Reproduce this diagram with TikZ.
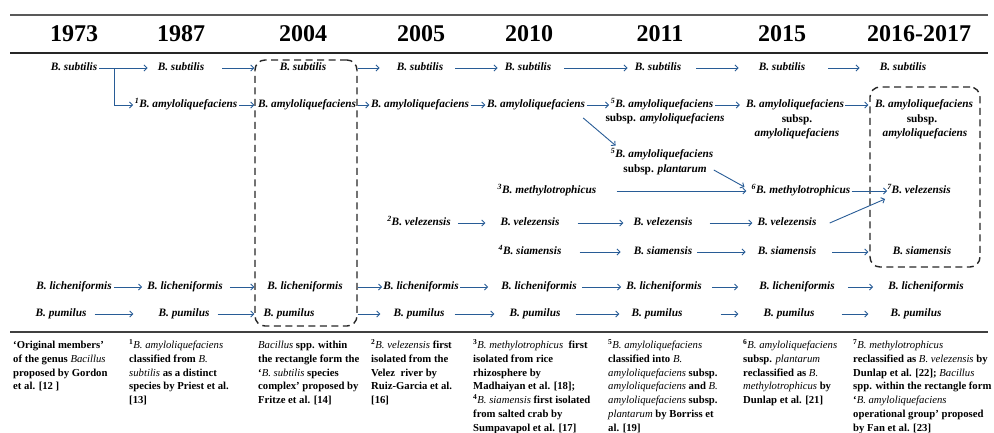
\documentclass[tikz,border=0pt]{standalone}
\usepackage{fontspec}
\setmainfont{Liberation Serif}
\usetikzlibrary{arrows.meta}
\definecolor{arrblue}{RGB}{40,92,150}
\newcommand{\fnbox}[1]{\parbox[t]{160pt}{\raggedright\fontsize{10.7}{13.8}\selectfont\bfseries #1}}
\newcommand{\spi}[1]{{\mdseries\itshape #1}}
\begin{document}
\begin{tikzpicture}[x=1pt,y=-1pt,
  sp/.style={font=\fontsize{11.3}{13}\selectfont\bfseries\itshape, inner sep=0pt, text height=8pt, text depth=2.5pt},
  yr/.style={font=\fontsize{24}{26}\selectfont\bfseries, inner sep=0pt},
  arr/.style={draw=arrblue, line width=0.9pt, -{Straight Barb[length=3pt,width=6pt]}},
  dbox/.style={draw=black!85, line width=1.4pt, dash pattern=on 7pt off 4.5pt, rounded corners=10pt, inner sep=0pt},
  fn/.style={anchor=base west, inner sep=0pt}
]
\useasboundingbox (0,0) rectangle (994,432);
% rules
\draw[line width=1.6pt, black!65] (10,15) -- (988,15);
\draw[line width=1.2pt, black!85] (10,53) -- (988,53);
\draw[line width=1.2pt, black!75] (10,332) -- (988,332);
% years
\node[yr] (y1) at (74,34) {1973};
\node[yr] (y2) at (181,34) {1987};
\node[yr] (y3) at (303,34) {2004};
\node[yr] (y4) at (421,34) {2005};
\node[yr] (y5) at (529,34) {2010};
\node[yr] (y6) at (660,34) {2011};
\node[yr] (y7) at (782,34) {2015};
\node[yr] (y8) at (919,34) {2016-2017};
% boxes
\node[dbox, minimum width=102pt, minimum height=266pt] (box04) at (306,193) {};
\node[dbox, minimum width=110pt, minimum height=180pt] (box16) at (925,177) {};
% subtilis row
\node[sp] (s73) at (74,68) {B. subtilis};
\node[sp] (s87) at (181,68) {B. subtilis};
\node[sp] (s04) at (303,68) {B. subtilis};
\node[sp] (s05) at (420,68) {B. subtilis};
\node[sp] (s10) at (528,68) {B. subtilis};
\node[sp] (s11) at (658,68) {B. subtilis};
\node[sp] (s15) at (782,68) {B. subtilis};
\node[sp] (s16) at (903,68) {B. subtilis};
% amyloliquefaciens row
\node[sp] (a87) at (186,105) {\textsuperscript{1}B. amyloliquefaciens};
\node[sp] (a04) at (307,105) {B. amyloliquefaciens};
\node[sp] (a05) at (420,105) {B. amyloliquefaciens};
\node[sp] (a10) at (536,105) {B. amyloliquefaciens};
\node[sp] (a11) at (662,105) {\textsuperscript{5}B. amyloliquefaciens};
\node[sp] (a11b) at (665,119) {{\upshape subsp.} amyloliquefaciens};
\node[sp] (a15) at (795,105) {B. amyloliquefaciens};
\node[sp] (a15b) at (797,120) {\upshape subsp.};
\node[sp] (a15c) at (797,134) {amyloliquefaciens};
\node[sp] (a16) at (924,105) {B. amyloliquefaciens};
\node[sp] (a16b) at (922,120) {\upshape subsp.};
\node[sp] (a16c) at (925,134) {amyloliquefaciens};
% plantarum
\node[sp] (p11) at (662,155) {\textsuperscript{5}B. amyloliquefaciens};
\node[sp] (p11b) at (665,170) {{\upshape subsp.} plantarum};
% methylotrophicus row
\node[sp] (m10) at (547,191) {\textsuperscript{3}B. methylotrophicus};
\node[sp] (m15) at (801,191) {\textsuperscript{6}B. methylotrophicus};
\node[sp] (v16) at (919,191) {\textsuperscript{7}B. velezensis};
% velezensis row
\node[sp] (v05) at (419,223) {\textsuperscript{2}B. velezensis};
\node[sp] (v10) at (530,223) {B. velezensis};
\node[sp] (v11) at (663,223) {B. velezensis};
\node[sp] (v15) at (787,223) {B. velezensis};
% siamensis row
\node[sp] (si10) at (530,252) {\textsuperscript{4}B. siamensis};
\node[sp] (si11) at (663,252) {B. siamensis};
\node[sp] (si15) at (787,252) {B. siamensis};
\node[sp] (si16) at (922,252) {B. siamensis};
% licheniformis row
\node[sp] (l73) at (74,287) {B. licheniformis};
\node[sp] (l87) at (185,287) {B. licheniformis};
\node[sp] (l04) at (305,287) {B. licheniformis};
\node[sp] (l05) at (421,287) {B. licheniformis};
\node[sp] (l10) at (539,287) {B. licheniformis};
\node[sp] (l11) at (664,287) {B. licheniformis};
\node[sp] (l15) at (797,287) {B. licheniformis};
\node[sp] (l16) at (926,287) {B. licheniformis};
% pumilus row
\node[sp] (p73) at (61,314) {B. pumilus};
\node[sp] (p87) at (184,314) {B. pumilus};
\node[sp] (p04) at (289,314) {B. pumilus};
\node[sp] (p05) at (419,314) {B. pumilus};
\node[sp] (p10) at (535,314) {B. pumilus};
\node[sp] (p11p) at (657,314) {B. pumilus};
\node[sp] (p15) at (789,314) {B. pumilus};
\node[sp] (p16) at (916,314) {B. pumilus};
% arrows: subtilis
\coordinate (br) at ([xshift=17pt]s73.east);
\draw[arr] ([xshift=2pt]s73.east) -- ([xshift=-10pt]s87.west);
\draw[arr] (br) |- ([xshift=-1.5pt]a87.west);
\draw[arr] ([xshift=18pt]s87.east) -- (box04.west |- s87.east);
\draw[arr] (box04.east |- s05.west) -- ([xshift=-17pt]s05.west);
\draw[arr] ([xshift=12pt]s05.east) -- ([xshift=-7pt]s10.west);
\draw[arr] ([xshift=13pt]s10.east) -- ([xshift=-7pt]s11.west);
\draw[arr] ([xshift=15pt]s11.east) -- ([xshift=-20pt]s15.west);
\draw[arr] ([xshift=23pt]s15.east) -- ([xshift=-20pt]s16.west);
% arrows: amyloliquefaciens
\draw[arr] ([xshift=2pt]a87.east) -- (box04.west |- a87.east);
\draw[arr] (box04.east |- a05.west) -- ([xshift=-1.5pt]a05.west);
\draw[arr] ([xshift=1.5pt]a05.east) -- ([xshift=-1.5pt]a10.west);
\draw[arr] ([xshift=1.5pt]a10.east) -- ([xshift=-1.5pt]a11.west);
\draw[arr] ([xshift=-2pt,yshift=-7.5pt]a10.south east) -- ([xshift=5pt,yshift=4pt]p11.north west);
\draw[arr] ([xshift=2pt]a11.east) -- ([xshift=-6pt]a15.west);
\draw[arr, shorten >=1pt] ([xshift=1pt]a15.east) -- (box16.west |- a15.east);
% methylotrophicus
\draw[arr] ([xshift=20pt]m10.east) -- ([xshift=-5pt]m15.west);
\draw[arr] ([xshift=7pt]p11b.east) -- ([xshift=-7pt,yshift=4pt]m15.west);
\draw[arr] ([xshift=1pt]m15.east) -- (v16.west);
\draw[arr] ([xshift=13pt]v15.east) -- ([xshift=-2pt,yshift=-8pt]v16.west);
% velezensis
\draw[arr] ([xshift=7pt]v05.east) -- ([xshift=-15pt]v10.west);
\draw[arr] ([xshift=18pt]v10.east) -- ([xshift=-10pt]v11.west);
\draw[arr] ([xshift=17pt]v11.east) -- ([xshift=-5pt]v15.west);
% siamensis
\draw[arr] ([xshift=18pt]si10.east) -- ([xshift=-13pt]si11.west);
\draw[arr] ([xshift=5pt]si11.east) -- ([xshift=-12pt]si15.west);
\draw[arr, shorten >=1pt] ([xshift=16pt]si15.east) -- (box16.west |- si15.east);
% licheniformis
\draw[arr] ([xshift=2pt]l73.east) -- ([xshift=-5pt]l87.west);
\draw[arr] ([xshift=7pt]l87.east) -- (box04.west |- l87.east);
\draw[arr] (box04.east |- l05.west) -- ([xshift=-1pt]l05.west);
\draw[arr] ([xshift=1pt]l05.east) -- ([xshift=-13pt]l10.west);
\draw[arr] ([xshift=5pt]l10.east) -- ([xshift=-5pt]l11.west);
\draw[arr] ([xshift=10pt]l11.east) -- ([xshift=-21pt]l15.west);
\draw[arr] ([xshift=13pt]l15.east) -- ([xshift=-15pt]l16.west);
% pumilus
\draw[arr] ([xshift=8pt]p73.east) -- ([xshift=-25pt]p87.west);
\draw[arr] ([xshift=8pt]p87.east) -- (box04.west |- p87.east);
\draw[arr] (box04.east |- p05.west) -- ([xshift=-13pt]p05.west);
\draw[arr] ([xshift=10pt]p05.east) -- ([xshift=-15pt]p10.west);
\draw[arr] ([xshift=15pt]p10.east) -- ([xshift=-12pt]p11p.west);
\draw[arr] ([xshift=38pt]p11p.east) -- ([xshift=-25pt]p15.west);
\draw[arr] ([xshift=27pt]p15.east) -- ([xshift=-22pt]p16.west);
% footnotes
\node[fn] (f1) at (13,348.5) {\fnbox{`Original members'\\ of the genus \spi{Bacillus}\\ proposed by Gordon\\ et al. [12 ]}};
\node[fn] (f2) at (129,348.5) {\fnbox{\textsuperscript{1}\spi{B. amyloliquefaciens}\\ classified from \spi{B.}\\ \spi{subtilis} as a distinct\\ species by Priest et al.\\{}[13]}};
\node[fn] (f3) at (258,348.5) {\fnbox{\spi{Bacillus} spp. within\\ the rectangle form the\\ `\spi{B. subtilis} species\\ complex' proposed by\\ Fritze et al. [14]}};
\node[fn] (f4) at (371,348.5) {\fnbox{\textsuperscript{2}\spi{B. velezensis} first\\ isolated from the\\ Velez\ \ river by\\ Ruiz-Garcia et al.\\{}[16]}};
\node[fn] (f5) at (473,348.5) {\fnbox{\textsuperscript{3}\spi{B. methylotrophicus}\ \ first\\ isolated from rice\\ rhizosphere by\\ Madhaiyan et al. [18];\\ \textsuperscript{4}\spi{B. siamensis} first isolated\\ from salted crab by\\ Sumpavapol et al. [17]}};
\node[fn] (f6) at (608,348.5) {\fnbox{\textsuperscript{5}\spi{B. amyloliquefaciens}\\ classified into \spi{B.}\\ \spi{amyloliquefaciens} subsp.\\ \spi{amyloliquefaciens} and \spi{B.}\\ \spi{amyloliquefaciens} subsp.\\ \spi{plantarum} by Borriss et\\ al. [19]}};
\node[fn] (f7) at (743,348.5) {\fnbox{\textsuperscript{6}\spi{B. amyloliquefaciens}\\ subsp. \spi{plantarum}\\ reclassified as \spi{B.}\\ \spi{methylotrophicus} by\\ Dunlap et al. [21]}};
\node[fn] (f8) at (853,348.5) {\fnbox{\textsuperscript{7}\spi{B. methylotrophicus}\\ reclassified as \spi{B. velezensis} by\\ Dunlap et al. [22]; \spi{Bacillus}\\ spp. within the rectangle form\\ `\spi{B. amyloliquefaciens}\\ operational group' proposed\\ by Fan et al. [23]}};
\end{tikzpicture}
\end{document}
